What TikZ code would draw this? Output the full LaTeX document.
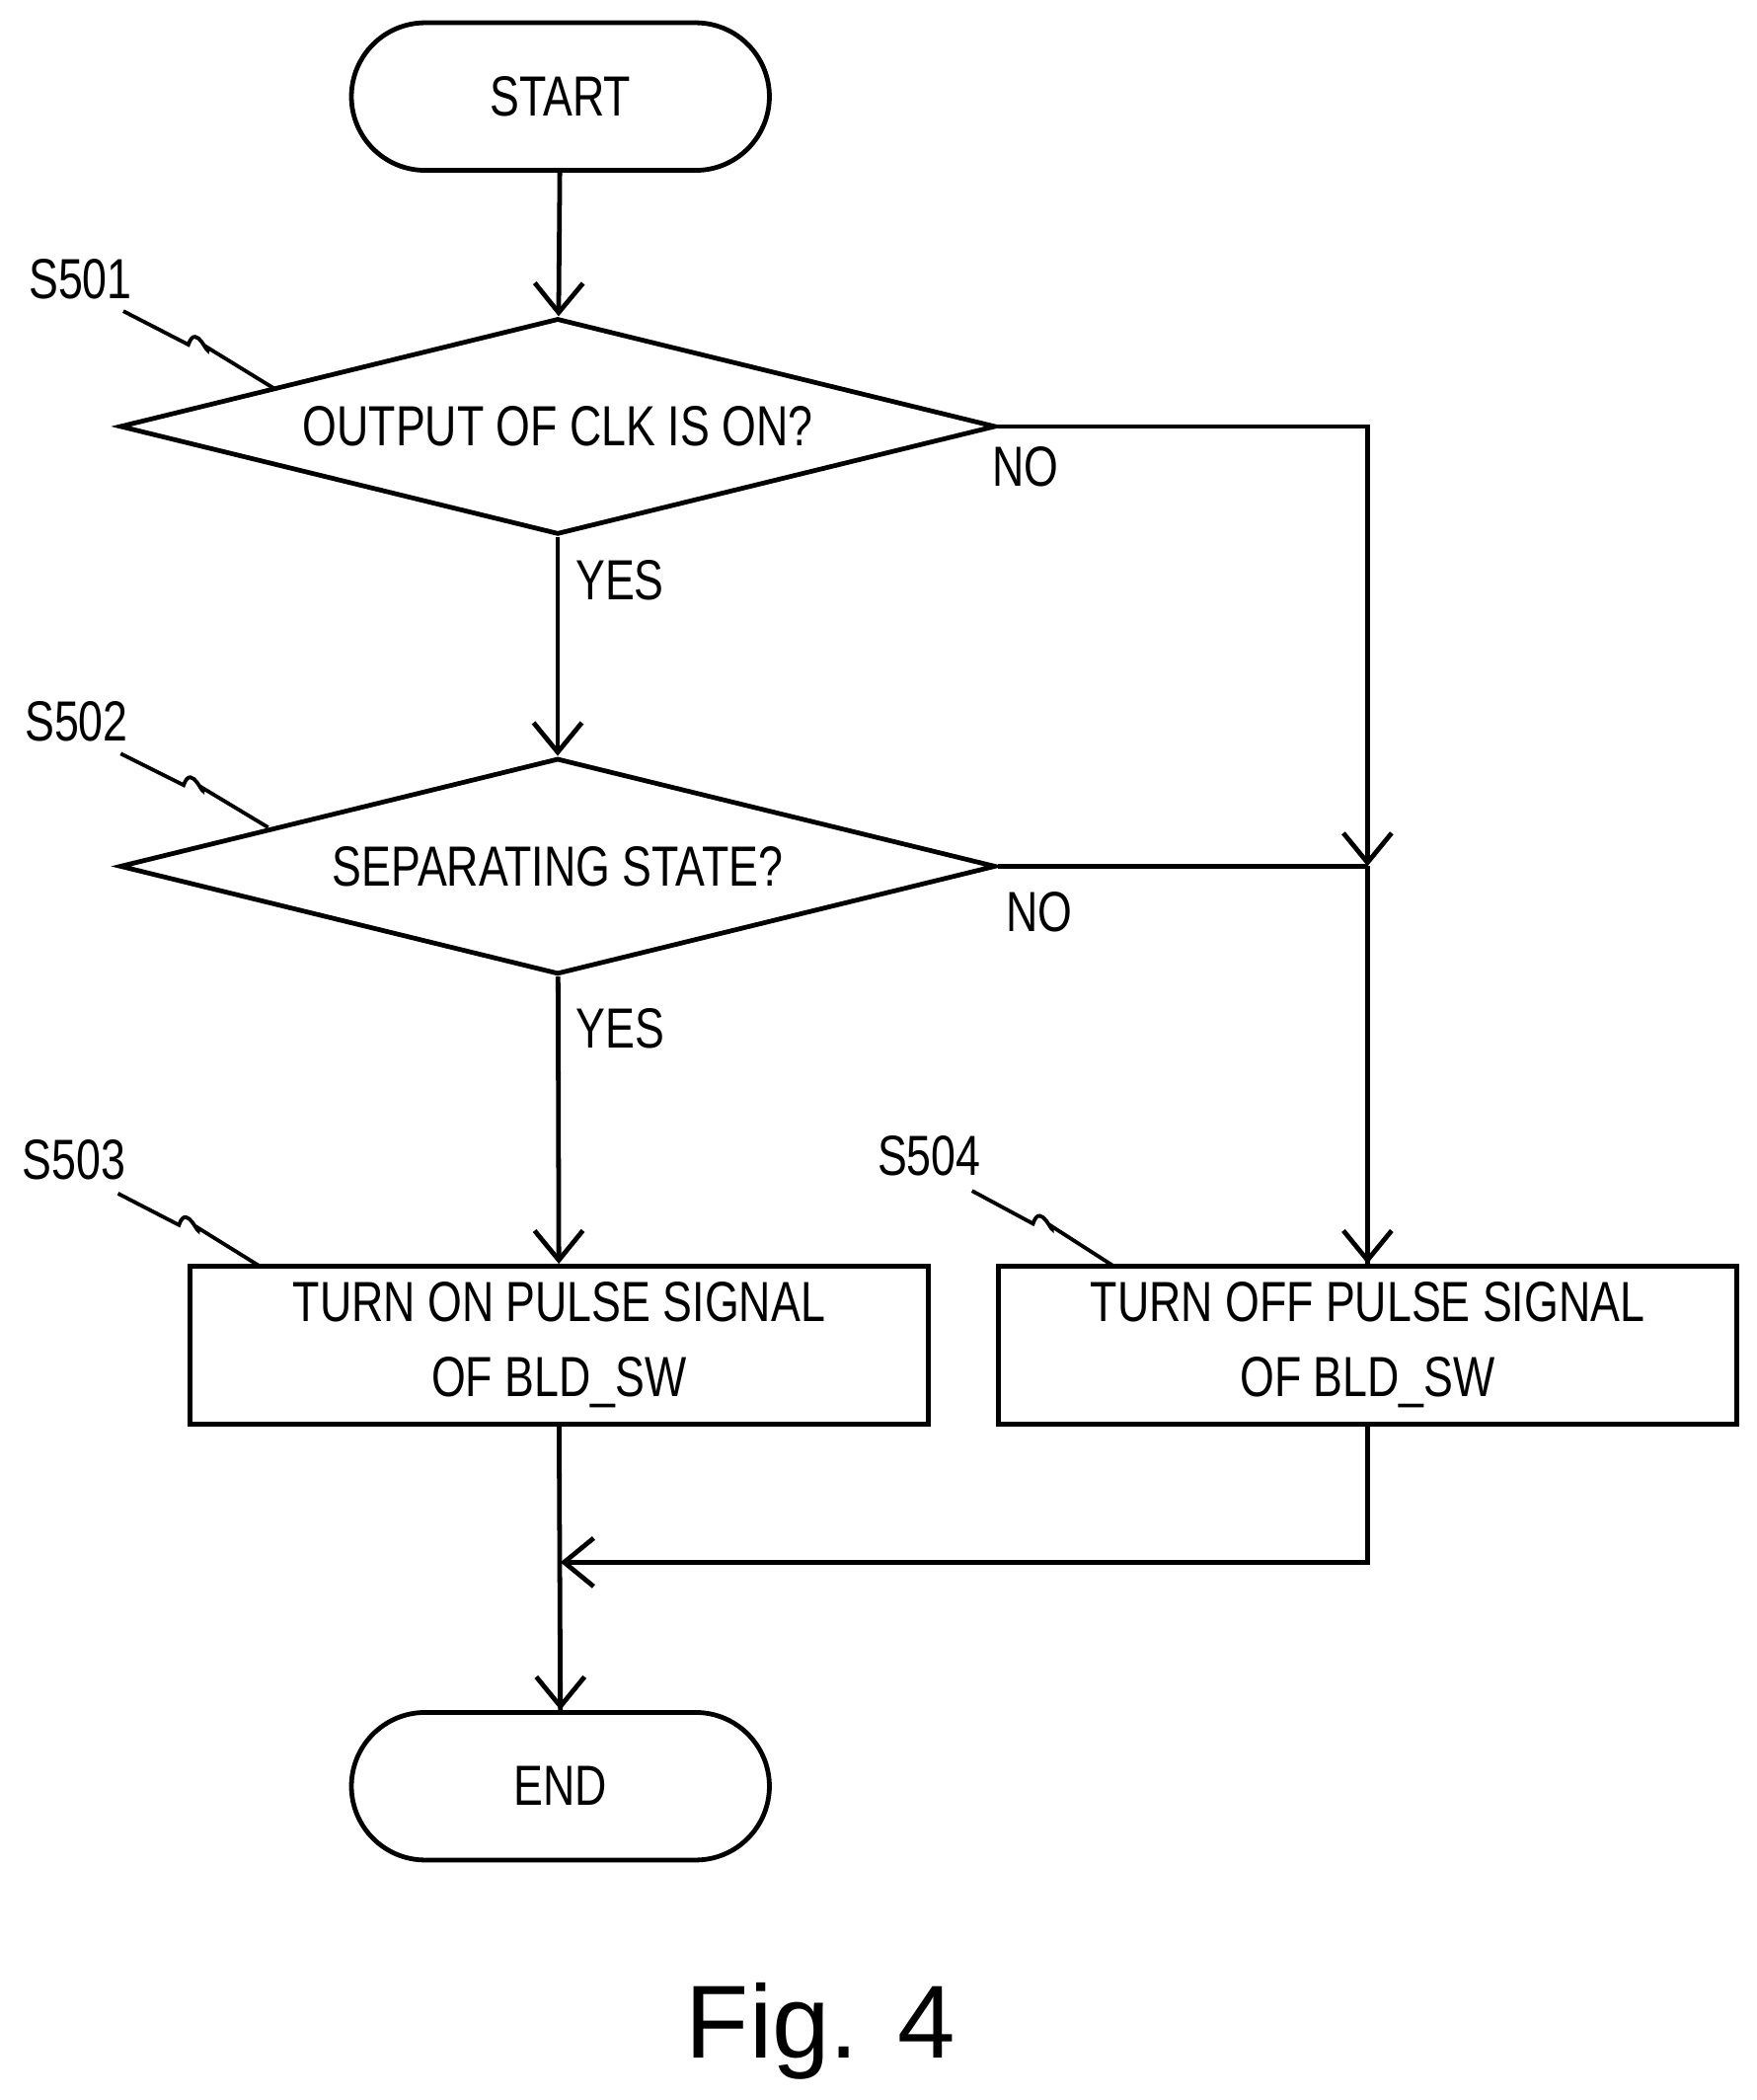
\documentclass[tikz,border=0pt]{standalone}
\usepackage{fontspec}
\setmainfont{Liberation Sans}
\newfontfamily\narrowfont[FakeStretch=0.78]{Liberation Sans}
\usetikzlibrary{shapes.geometric,shapes.misc,arrows.meta,positioning}
\begin{document}
\begin{tikzpicture}[x=0.01cm,y=-0.01cm,line width=1pt,
        >={Straight Barb[length=2.2mm,width=3.6mm]},
        every node/.style={font=\narrowfont\fontsize{12}{16}\selectfont},
        term/.style={draw,rounded rectangle,minimum width=3.35cm,minimum height=1.1cm},
        decide/.style={draw,diamond,aspect=4.06,minimum width=6.53cm,minimum height=1.61cm,inner sep=0pt},
        proc/.style={draw,rectangle,minimum width=5.5cm,minimum height=1.1cm,align=center},
        tag/.style={font=\narrowfont\fontsize{12}{15}\selectfont}]
    \useasboundingbox (0,0) rectangle (1310,1566);
    % terminals and steps
    \node[term] (start) at (418,72) {START};
    \node[decide] (clk) at (416,318) {OUTPUT OF CLK IS ON?};
    \node[decide] (sep) at (416,646) {SEPARATING STATE?};
    \node[proc] (on) at (417,1003) {TURN ON PULSE SIGNAL\\OF BLD\_SW};
    \node[proc] (off) at (1020,1003) {TURN OFF PULSE SIGNAL\\OF BLD\_SW};
    \node[term] (end) at (418,1332) {END};
    \coordinate (merge) at (1020,646);
    \coordinate (join) at (418,1165);

    % flow
    \draw[->] (start) -- (clk);
    \draw[->] (clk) -- node[right,pos=0.2] {YES} (sep);
    \draw[->] (sep) -- node[right,pos=0.18] {YES} (on);
    \draw[->] (clk.east) -- (1020,318) -- (merge);
    \draw (merge) -- (off.north);
    \draw[->] (1020,900) -- (off.north);
    \draw (sep.east) -- (merge);
    \draw (on.south) -- (end.north);
    \draw[->] (418,1240) -- (end.north);
    \draw[->] (off.south) |- (join);
    \node (no1) at (765,348) {NO};
    \node (no2) at (775,680) {NO};

    % step tags with wavy leaders
    \foreach \nm/\tx/\ty/\ax/\ay/\bx/\by in
        {S501/60/208/92/232/205/290, S502/57/538/90/562/200/617,
         S503/55/865/88/890/195/945, S504/693/862/725/888/832/945} {
        \node[tag] (\nm) at (\tx,\ty) {\nm};
        \draw[line width=0.8pt] (\ax,\ay) -- ({(\ax+\bx)/2-8},{(\ay+\by)/2-4})
            .. controls ({(\ax+\bx)/2-2},{(\ay+\by)/2-22}) and ({(\ax+\bx)/2+8},{(\ay+\by)/2+8}) ..
            ({(\ax+\bx)/2+6},{(\ay+\by)/2-2}) -- (\bx,\by);
    }
    \node[font=\fontsize{22}{26}\selectfont] (fig) at (612,1515) {Fig. 4};
\end{tikzpicture}
\end{document}
